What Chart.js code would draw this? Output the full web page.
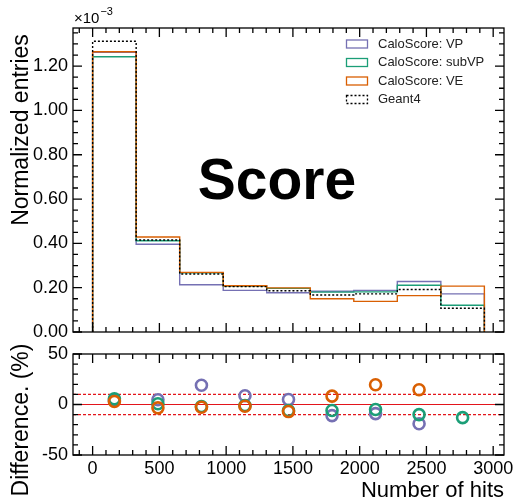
<!DOCTYPE html>
<html>
<head>
<meta charset="utf-8">
<script src="https://cdn.jsdelivr.net/npm/chart.js@4.4.1/dist/chart.umd.min.js"></script>
<style>
  html, body { margin: 0; padding: 0; background: #fff; }
  #wrap { position: relative; width: 516px; height: 502px; }
  #top { position: absolute; left: 0; top: 0; }
  #bottom { position: absolute; left: 0; top: 336px; }
</style>
</head>
<body>
<div id="wrap">
  <canvas id="bottom" width="516" height="166"></canvas>
  <canvas id="top" width="516" height="346"></canvas>
</div>
<script>
// Hit-count histogram, bin edges
const binEdges = [0, 326, 652, 978, 1304, 1630, 1956, 2282, 2608, 2934];

// Normalized entries per bin (x 1e-3)
const geant4 = [1.312, 0.415, 0.262, 0.205, 0.186, 0.167, 0.172, 0.192, 0.107];
const caloVP = [1.262, 0.396, 0.213, 0.188, 0.177, 0.184, 0.188, 0.228, 0.172];
const caloSubVP = [1.242, 0.412, 0.267, 0.207, 0.197, 0.180, 0.181, 0.211, 0.121];
const caloVE = [1.265, 0.429, 0.269, 0.2085, 0.199, 0.150, 0.138, 0.164, 0.207];

// Difference to Geant4 in %, null = off the panel
const diffVP = [4.0, 4.7, 19.0, 8.6, 5.0, -11.0, -9.0, -19.0, null];
const diffSubVP = [5.6, 0.7, -2.0, -1.0, -6.0, -6.0, -5.0, -10.0, -13.0];
const diffVE = [3.0, -3.3, -2.7, -1.7, -7.0, 8.3, 19.6, 14.6, null];

const xTickValues = [0, 500, 1000, 1500, 2000, 2500, 3000];
const yTickValues = [0, 0.2, 0.4, 0.6, 0.8, 1.0, 1.2];
const diffTickValues = [-50, 0, 50];

const X_MIN = -147, X_MAX = 3081;
const FONT = "'Liberation Sans', Arial, Helvetica, sans-serif";
const COLORS = { vp: '#7570b3', subvp: '#1b9e77', ve: '#d95f02', g4: '#000000' };

function stepPoints(vals) {
  const last = binEdges[binEdges.length - 1];
  const pts = [{ x: binEdges[0], y: 0 }];
  vals.forEach((v, i) => pts.push({ x: binEdges[i], y: v }));
  pts.push({ x: last, y: vals[vals.length - 1] });
  pts.push({ x: last, y: 0 });
  return pts;
}

const binCenters = binEdges.slice(0, -1).map((e, i) => (e + binEdges[i + 1]) / 2);

function diffPoints(vals) {
  return vals.map((v, i) => ({ x: binCenters[i], y: v })).filter(p => p.y !== null);
}

// axes keep a fixed size and no extra label padding
function fixWidth(w) {
  return s => { s.width = w; s.paddingTop = 0; s.paddingBottom = 0; };
}
function fixHeight(h) {
  return s => { s.height = h; s.paddingLeft = 0; s.paddingRight = 0; };
}

// frame with inward major/minor ticks on all four sides
const framePlugin = {
  id: 'frame',
  afterDraw(chart, args, opts) {
    const { ctx, chartArea: a, scales } = chart;
    const xs = scales.x, ys = scales.y;
    ctx.save();
    ctx.strokeStyle = '#000';
    ctx.lineWidth = 1.3;
    ctx.setLineDash([]);
    ctx.strokeRect(a.left, a.top, a.right - a.left, a.bottom - a.top);

    const ticks = (scale, minor, major, draw) => {
      const k0 = Math.ceil(scale.min / minor - 1e-9);
      const k1 = Math.floor(scale.max / minor + 1e-9);
      for (let k = k0; k <= k1; k++) {
        const v = k * minor;
        const r = v / major;
        const isMajor = Math.abs(r - Math.round(r)) < 1e-6;
        draw(scale.getPixelForValue(v), isMajor ? 9 : 5);
      }
    };
    ctx.beginPath();
    ticks(xs, opts.xMinor, opts.xMajor, (px, len) => {
      ctx.moveTo(px, a.bottom); ctx.lineTo(px, a.bottom - len);
      ctx.moveTo(px, a.top); ctx.lineTo(px, a.top + len);
    });
    ticks(ys, opts.yMinor, opts.yMajor, (py, len) => {
      ctx.moveTo(a.left, py); ctx.lineTo(a.left + len, py);
      ctx.moveTo(a.right, py); ctx.lineTo(a.right - len, py);
    });
    ctx.stroke();
    ctx.restore();
  }
};

// legend, exponent, axis titles and the big label
const topTextPlugin = {
  id: 'topText',
  afterDraw(chart) {
    const { ctx, chartArea: a } = chart;
    ctx.save();
    ctx.fillStyle = '#000';

    ctx.font = `15px ${FONT}`;
    ctx.textBaseline = 'alphabetic';
    ctx.textAlign = 'left';
    ctx.fillText('\u00d710', a.left + 1, a.top - 5);
    const w = ctx.measureText('\u00d710').width;
    ctx.font = `11px ${FONT}`;
    ctx.fillText('\u22123', a.left + 2 + w, a.top - 13);

    ctx.font = `bold 57px ${FONT}`;
    ctx.textAlign = 'center';
    ctx.fillText('Score', 277, 199);

    ctx.translate(22, 130);
    ctx.rotate(-Math.PI / 2);
    ctx.font = `23px ${FONT}`;
    ctx.textBaseline = 'middle';
    ctx.fillText('Normalized entries', 0, 0);
    ctx.restore();

    ctx.save();
    ctx.font = `13px ${FONT}`;
    ctx.textBaseline = 'middle';
    ctx.textAlign = 'left';
    chart.data.datasets.forEach((ds, i) => {
      const y = 44 + i * 18.5;
      ctx.strokeStyle = ds.borderColor;
      ctx.lineWidth = 1.3;
      ctx.setLineDash(ds.borderDash || []);
      ctx.strokeRect(346.5, y - 4, 21, 8);
      ctx.setLineDash([]);
      ctx.fillStyle = '#222';
      ctx.fillText(ds.label, 378, y);
    });
    ctx.restore();
  }
};

const bottomTextPlugin = {
  id: 'bottomText',
  afterDraw(chart) {
    const { ctx, chartArea: a } = chart;
    ctx.save();
    ctx.fillStyle = '#000';
    ctx.font = `22px ${FONT}`;
    ctx.textAlign = 'right';
    ctx.textBaseline = 'alphabetic';
    ctx.fillText('Number of hits', a.right, 161);

    ctx.translate(22, 84);
    ctx.rotate(-Math.PI / 2);
    ctx.font = `23px ${FONT}`;
    ctx.textAlign = 'center';
    ctx.textBaseline = 'middle';
    ctx.fillText('Difference. (%)', 0, 0);
    ctx.restore();
  }
};

const tickFont = { family: FONT, size: 18 };

function histSet(label, vals, color, order, dash) {
  return {
    label,
    data: stepPoints(vals),
    borderColor: color,
    borderWidth: 1.4,
    borderDash: dash,
    stepped: 'before',
    pointRadius: 0,
    fill: false,
    order
  };
}

new Chart(document.getElementById('top'), {
  type: 'line',
  data: {
    datasets: [
      histSet('CaloScore: VP', caloVP, COLORS.vp, 4),
      histSet('CaloScore: subVP', caloSubVP, COLORS.subvp, 3),
      histSet('CaloScore: VE', caloVE, COLORS.ve, 2),
      histSet('Geant4', geant4, COLORS.g4, 1, [2, 2])
    ]
  },
  options: {
    responsive: false,
    animation: false,
    layout: { padding: { left: 0, top: 28, right: 12, bottom: 14 } },
    scales: {
      x: { type: 'linear', display: false, min: X_MIN, max: X_MAX },
      y: {
        min: 0, max: 1.372,
        afterFit: fixWidth(73),
        afterBuildTicks(s) { s.ticks = yTickValues.map(v => ({ value: v })); },
        grid: { display: false, drawTicks: false },
        border: { display: false },
        ticks: { color: '#000', font: tickFont, padding: 5, callback: v => v.toFixed(2) }
      }
    },
    plugins: {
      legend: { display: false },
      tooltip: { enabled: false },
      frame: { xMinor: 100, xMajor: 500, yMinor: 0.05, yMajor: 0.2 }
    }
  },
  plugins: [framePlugin, topTextPlugin]
});

function diffSet(vals, color, order) {
  return {
    data: diffPoints(vals),
    borderColor: color,
    backgroundColor: 'rgba(0,0,0,0)',
    borderWidth: 2.6,
    pointRadius: 5.5,
    showLine: false,
    order
  };
}

function refLine(y, dash) {
  return {
    type: 'line',
    data: [{ x: X_MIN, y }, { x: X_MAX, y }],
    borderColor: '#e3141b',
    borderWidth: 1.2,
    borderDash: dash,
    pointRadius: 0,
    showLine: true,
    order: 10
  };
}

new Chart(document.getElementById('bottom'), {
  type: 'scatter',
  data: {
    datasets: [
      refLine(0, []),
      refLine(10, [3, 2]),
      refLine(-10, [3, 2]),
      diffSet(diffVP, COLORS.vp, 3),
      diffSet(diffSubVP, COLORS.subvp, 2),
      diffSet(diffVE, COLORS.ve, 1)
    ]
  },
  options: {
    responsive: false,
    animation: false,
    layout: { padding: { left: 0, top: 18, right: 12, bottom: 0 } },
    scales: {
      x: {
        type: 'linear', min: X_MIN, max: X_MAX,
        afterFit: fixHeight(47),
        afterBuildTicks(s) { s.ticks = xTickValues.map(v => ({ value: v })); },
        grid: { display: false, drawTicks: false },
        border: { display: false },
        ticks: { color: '#000', font: tickFont, padding: 3, maxRotation: 0, callback: v => String(v) }
      },
      y: {
        min: -50, max: 50,
        afterFit: fixWidth(73),
        afterBuildTicks(s) { s.ticks = diffTickValues.map(v => ({ value: v })); },
        grid: { display: false, drawTicks: false },
        border: { display: false },
        ticks: { color: '#000', font: tickFont, padding: 5, callback: v => String(v) }
      }
    },
    plugins: {
      legend: { display: false },
      tooltip: { enabled: false },
      frame: { xMinor: 100, xMajor: 500, yMinor: 10, yMajor: 50 }
    }
  },
  plugins: [framePlugin, bottomTextPlugin]
});
</script>
</body>
</html>
